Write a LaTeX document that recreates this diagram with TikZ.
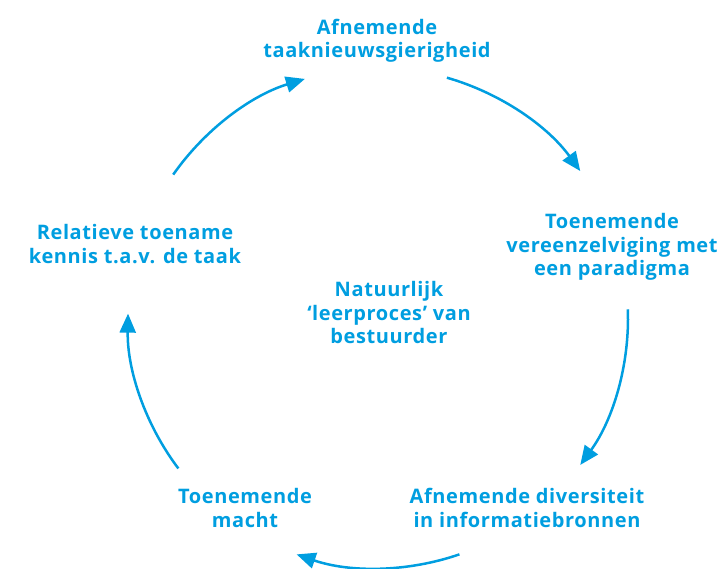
\documentclass[tikz,border=0pt]{standalone}
\usepackage{fontspec}
\setmainfont{Open Sans}[LetterSpace=3]
\usetikzlibrary{arrows.meta}
\definecolor{cyclus}{RGB}{0,158,224}
\tikzset{
	x=1pt, y=1pt,
	>={Triangle[length=19pt,width=16pt]},
	fase/.style={text=cyclus, align=center, font=\fontsize{20}{23.5}\selectfont\bfseries},
	pijl/.style={->, draw=cyclus, line width=2.5pt}}

\begin{document}
\begin{tikzpicture}
		\useasboundingbox (-378,-251) rectangle (344,318);
		\node[fase] (taak) at (-1,277) {Afnemende\\taaknieuwsgierigheid};
		\node[fase] (para) at (234,71) {Toenemende\\vereenzelviging met\\een paradigma};
		\node[fase] (info) at (149,-190) {Afnemende diversiteit\\in informatiebronnen};
		\node[fase] (macht) at (-133,-190) {Toenemende\\macht};
		\node[fase] (kennis) at (-243,74) {Relatieve toename\\kennis t.a.v. de taak};
		\node[fase] (proces) at (11,5) {Natuurlijk\\‘leerproces’ van\\bestuurder};
		
		% pijlen tussen de fasen
		\foreach \hoek [count=\i] in {55,-17,-90,-162,126} {
			\coordinate (b\i) at (\hoek+19:250);
			\draw[pijl] (b\i) arc[start angle=\hoek+19, end angle=\hoek-19, radius=250];
		}
	\end{tikzpicture}
\end{document}
